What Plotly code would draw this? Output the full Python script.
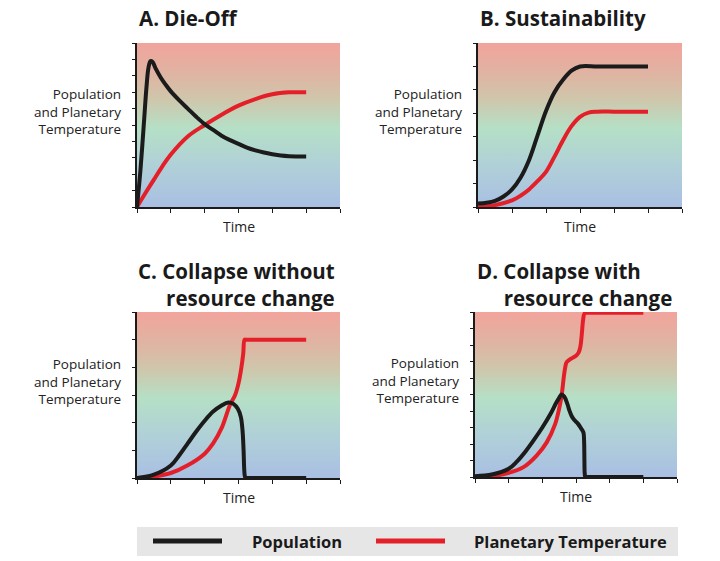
import plotly.graph_objects as go

# panel A - die-off
a_pop_time = [0, 0.1, 0.2, 0.28, 0.34, 0.4, 0.46, 0.55, 0.7, 0.85, 1.0, 1.25, 1.5, 1.75, 2.0, 2.25, 2.5, 2.75,
              3.0, 3.25, 3.5, 3.75, 4.0, 4.25, 4.5, 5.0]
a_pop = [0, 2.2, 5.0, 7.3, 8.5, 8.9, 8.85, 8.45, 7.9, 7.45, 7.05, 6.5, 6.0, 5.5, 5.05, 4.7, 4.35, 4.08,
         3.85, 3.62, 3.45, 3.32, 3.22, 3.14, 3.1, 3.08]
a_temp_time = [0, 0.25, 0.5, 0.75, 1.0, 1.5, 2.0, 2.5, 3.0, 3.5, 4.0, 4.5, 5.0]
a_temp = [0, 0.85, 1.67, 2.48, 3.2, 4.3, 5.0, 5.63, 6.18, 6.58, 6.87, 6.99, 7.0]

# panel B - sustainability
b_pop_time = [0, 0.25, 0.5, 0.75, 1.0, 1.25, 1.5, 1.75, 2.0, 2.25, 2.5, 2.75, 3.0, 3.5, 4.0, 4.5, 5.0]
b_pop = [0.15, 0.18, 0.26, 0.45, 0.75, 1.25, 2.0, 3.05, 4.1, 4.9, 5.43, 5.82, 6.0, 6.0, 6.0, 6.0, 6.0]
b_temp_time = [0, 0.5, 1.0, 1.25, 1.5, 1.75, 2.0, 2.25, 2.5, 2.75, 3.0, 3.25, 3.5, 4.0, 4.5, 5.0]
b_temp = [0, 0.08, 0.28, 0.48, 0.75, 1.1, 1.5, 2.15, 2.85, 3.45, 3.85, 4.03, 4.07, 4.07, 4.07, 4.07]

# panel C - collapse without resource change
c_pop_time = [0, 0.5, 1.0, 1.25, 1.5, 1.75, 2.0, 2.25, 2.5, 2.7, 2.85, 2.98, 3.07, 3.12, 3.15, 3.17, 3.19,
              3.22, 3.3, 3.5, 4.0, 4.5, 5.0]
c_pop = [0, 0.12, 0.45, 0.82, 1.25, 1.68, 2.07, 2.4, 2.62, 2.73, 2.68, 2.5, 2.2, 1.7, 1.0, 0.3, 0.05,
         0, 0, 0, 0, 0, 0]
c_temp_time = [0, 0.5, 1.0, 1.5, 2.0, 2.25, 2.5, 2.75, 2.9, 3.0, 3.08, 3.14, 3.18, 3.22, 3.5, 4.0, 4.5, 5.0]
c_temp = [0, 0.05, 0.18, 0.46, 0.88, 1.25, 1.8, 2.65, 3.0, 3.42, 3.95, 4.5, 5.0, 5.0, 5.0, 5.0, 5.0, 5.0]

# panel D - collapse with resource change
d_pop_time = [0, 0.5, 1.0, 1.25, 1.5, 1.75, 2.0, 2.25, 2.4, 2.5, 2.57, 2.65, 2.74, 2.8, 2.87, 2.95, 3.05,
              3.15, 3.22, 3.24, 3.25, 3.26, 3.28, 3.35, 3.5, 4.0, 4.5, 5.0]
d_pop = [0.05, 0.15, 0.5, 0.95, 1.55, 2.25, 3.0, 3.85, 4.45, 4.8, 5.0, 4.88, 4.45, 4.05, 3.7, 3.45, 3.25,
         2.95, 2.7, 2.2, 1.0, 0.2, 0, 0, 0, 0, 0, 0]
d_temp_time = [0, 0.5, 1.0, 1.44, 1.83, 2.13, 2.38, 2.5, 2.57, 2.64, 2.68, 2.72, 2.8, 2.9, 3.0, 3.08, 3.13,
               3.17, 3.21, 3.25, 3.3, 3.5, 4.0, 4.5, 5.0]
d_temp = [0, 0.05, 0.25, 0.6, 1.3, 2.1, 3.2, 4.15, 4.9, 6.1, 6.65, 6.95, 7.1, 7.22, 7.35, 7.55, 7.9,
          8.6, 9.5, 9.9, 9.95, 9.95, 9.95, 9.95, 9.95]

y_tops = [10, 7, 6, 10]

BLACK = "#1b1b1b"
RED = "#e3202a"
W, H = 720, 561


def px(x):
    return x / W


def py(y):
    return 1 - y / H


# pixel boxes of each plot area (left, right, top, bottom)
boxes = [(137, 340, 43, 207), (478, 682, 43, 207), (137, 340, 312, 478), (475, 677, 312, 477)]

bg_scale = [[0, "#a9bfe3"], [0.25, "#b0d0d8"], [0.48, "#b5e0c6"], [0.66, "#cfc6ab"], [0.82, "#e0b3a2"], [1, "#f2a49c"]]

fig = go.Figure()

series = [
    (a_pop_time, a_pop, a_temp_time, a_temp),
    (b_pop_time, b_pop, b_temp_time, b_temp),
    (c_pop_time, c_pop, c_temp_time, c_temp),
    (d_pop_time, d_pop, d_temp_time, d_temp),
]

for i, (pt, pv, tt, tv) in enumerate(series):
    n = "" if i == 0 else str(i + 1)
    xa, ya = "x" + n, "y" + n
    top = y_tops[i]
    fig.add_trace(go.Scatter(x=[0, 6, 6, 0, 0], y=[0, 0, top, top, 0], mode="lines",
                             line=dict(width=0), fill="toself",
                             fillgradient=dict(type="vertical", colorscale=bg_scale),
                             hoverinfo="skip", showlegend=False, xaxis=xa, yaxis=ya))
    fig.add_trace(go.Scatter(x=tt, y=tv, mode="lines", line=dict(color=RED, width=4, shape="spline", smoothing=1),
                             cliponaxis=False, showlegend=False, xaxis=xa, yaxis=ya))
    fig.add_trace(go.Scatter(x=pt, y=pv, mode="lines", line=dict(color=BLACK, width=4, shape="spline", smoothing=1),
                             cliponaxis=False, showlegend=False, xaxis=xa, yaxis=ya))

    l, r, t, b = boxes[i]
    ax = dict(domain=[px(l), px(r)], range=[0, 6], dtick=1, showticklabels=False,
              showline=True, linecolor=BLACK, linewidth=2, ticks="outside", ticklen=4, tickcolor=BLACK,
              showgrid=True, gridcolor="rgba(255,255,255,0.45)", gridwidth=1, zeroline=False,
              fixedrange=True, anchor=ya)
    ay = dict(domain=[py(b), py(t)], range=[0, top], dtick=1, showticklabels=False,
              showline=True, linecolor=BLACK, linewidth=2, ticks="outside", ticklen=3, tickcolor=BLACK,
              showgrid=True, gridcolor="rgba(255,255,255,0.45)", gridwidth=1, zeroline=False,
              fixedrange=True, anchor=xa)
    fig.update_layout(**{"xaxis" + n: ax, "yaxis" + n: ay})

    # axis labels
    fig.add_annotation(x=px(l - 14), y=py((t + b) / 2 - 14), xref="paper", yref="paper",
                       text="Population<br>and Planetary<br>Temperature", showarrow=False,
                       xanchor="right", yanchor="middle", align="right",
                       font=dict(family="Open Sans", size=13.5, color="#222"))
    fig.add_annotation(x=px((l + r) / 2), y=py(b + 19), xref="paper", yref="paper",
                       text="Time", showarrow=False, xanchor="center", yanchor="middle",
                       font=dict(family="Open Sans", size=14, color="#222"))

title_font = dict(family="Open Sans", size=20.5, color="#1a1a1a")
fig.add_annotation(x=px(137), y=py(18), text="<b>A. Die-Off</b>", xref="paper", yref="paper",
                   showarrow=False, xanchor="left", yanchor="middle", font=title_font)
fig.add_annotation(x=px(478), y=py(18), text="<b>B. Sustainability</b>", xref="paper", yref="paper",
                   showarrow=False, xanchor="left", yanchor="middle", font=title_font)
fig.add_annotation(x=px(337), y=py(284), text="<b>C. Collapse without<br>resource change</b>",
                   xref="paper", yref="paper", align="right",
                   showarrow=False, xanchor="right", yanchor="middle", font=title_font)
fig.add_annotation(x=px(475), y=py(284),
                   text="<b>D. Collapse with<br>&nbsp;&nbsp;&nbsp;&nbsp;&nbsp;resource change</b>",
                   xref="paper", yref="paper", align="left",
                   showarrow=False, xanchor="left", yanchor="middle", font=title_font)

# legend box
fig.add_shape(type="rect", xref="paper", yref="paper", x0=px(137), x1=px(678), y0=py(556), y1=py(527),
              fillcolor="#e6e6e6", line=dict(width=0), layer="below")
fig.add_shape(type="line", xref="paper", yref="paper", x0=px(153), x1=px(222), y0=py(541), y1=py(541),
              line=dict(color=BLACK, width=5))
fig.add_shape(type="line", xref="paper", yref="paper", x0=px(376), x1=px(445), y0=py(541), y1=py(541),
              line=dict(color=RED, width=5))
leg_font = dict(family="Open Sans", size=16.5, color="#1a1a1a")
fig.add_annotation(x=px(250), y=py(541), text="<b>Population</b>", xref="paper", yref="paper",
                   showarrow=False, xanchor="left", yanchor="middle", font=leg_font)
fig.add_annotation(x=px(472), y=py(541), text="<b>Planetary Temperature</b>", xref="paper", yref="paper",
                   showarrow=False, xanchor="left", yanchor="middle", font=leg_font)

fig.update_layout(width=W, height=H, margin=dict(l=0, r=0, t=0, b=0),
                  paper_bgcolor="white", plot_bgcolor="rgba(0,0,0,0)", showlegend=False)

# drop the default body margin so the figure sits at the window corner
fig.write_html("out.html", config={"displayModeBar": False},
               post_script="document.body.style.margin='0';document.body.style.overflow='hidden';")
